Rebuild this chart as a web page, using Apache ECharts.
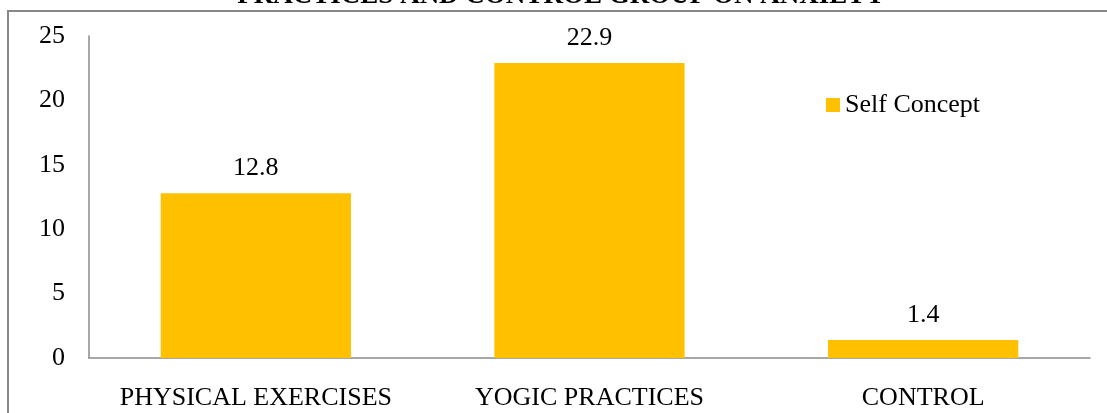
<!DOCTYPE html>
<html>
<head>
<meta charset="utf-8">
<script src="https://cdn.jsdelivr.net/npm/echarts@6/dist/echarts.min.js"></script>
<style>
  html, body { margin: 0; padding: 0; background: #fff; }
  #chart { width: 1107px; height: 413px; }
</style>
</head>
<body>
<div id="chart"></div>
<script>
// Group labels along the x axis
const categories = ['PHYSICAL EXERCISES', 'YOGIC PRACTICES', 'CONTROL'];
// Mean scores per group
const selfConcept = [12.8, 22.9, 1.4];
const seriesName = 'Self Concept';
const titleText = 'PRACTICES AND CONTROL GROUP ON ANXIETY';

const serif = '"Liberation Serif", "DejaVu Serif", serif';
const chart = echarts.init(document.getElementById('chart'), null, { renderer: 'canvas' });

chart.setOption({
  animation: false,
  backgroundColor: '#ffffff',
  textStyle: { fontFamily: serif, color: '#000' },
  grid: { left: 89, right: 17, top: 36, bottom: 55, containLabel: false },
  legend: {
    data: [seriesName],
    left: 821,
    top: 87,
    itemWidth: 14,
    itemHeight: 14,
    itemGap: 6,
    icon: 'rect',
    textStyle: { fontFamily: serif, fontSize: 26, color: '#000' }
  },
  xAxis: {
    type: 'category',
    data: categories,
    axisLine: { show: true, lineStyle: { color: '#8a8a8a', width: 1.5 } },
    axisTick: { show: false },
    axisLabel: { fontFamily: serif, fontSize: 26, color: '#000', margin: 27, interval: 0, hideOverlap: false },
    splitLine: { show: false }
  },
  yAxis: {
    type: 'value',
    min: 0,
    max: 25,
    interval: 5,
    axisLine: { show: true, lineStyle: { color: '#8a8a8a', width: 1.5 } },
    axisTick: { show: false },
    axisLabel: { fontFamily: serif, fontSize: 26, color: '#000', margin: 24 },
    splitLine: { show: false }
  },
  series: [{
    name: seriesName,
    type: 'bar',
    data: selfConcept,
    barWidth: '57%',
    itemStyle: { color: '#FFC000' },
    label: {
      show: true,
      position: 'top',
      distance: 12,
      fontFamily: serif,
      fontSize: 26,
      color: '#000'
    }
  }],
  graphic: [
    {
      type: 'text',
      x: 561,
      y: -17,
      style: {
        text: titleText,
        textAlign: 'center',
        font: 'bold 27px "Liberation Serif", serif',
        fill: '#000'
      }
    },
    {
      type: 'rect',
      shape: { x: 8, y: 11, width: 1200, height: 500 },
      style: { fill: 'none', stroke: '#888', lineWidth: 2 },
      silent: true
    }
  ]
});
</script>
</body>
</html>
